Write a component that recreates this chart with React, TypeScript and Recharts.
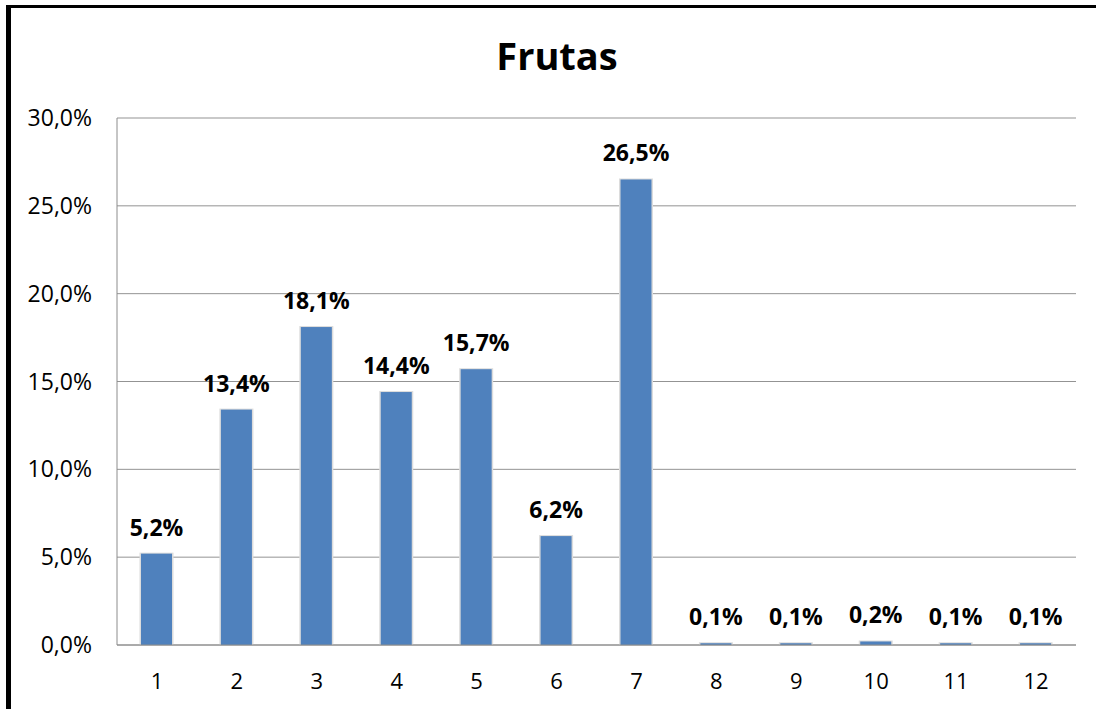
import React from 'react';
import { BarChart, Bar, XAxis, YAxis, CartesianGrid, LabelList } from 'recharts';

const categories = ['1', '2', '3', '4', '5', '6', '7', '8', '9', '10', '11', '12'];
const shares = [5.2, 13.4, 18.1, 14.4, 15.7, 6.2, 26.5, 0.1, 0.1, 0.2, 0.1, 0.1];
const yTicks = [0, 5, 10, 15, 20, 25, 30];

const data = categories.map((c, i) => ({ name: c, value: shares[i] }));

const fmt = (v: number) => `${v.toFixed(1).replace('.', ',')}%`;
const font = '"Open Sans", sans-serif';

const BarWithHalo = (props: any) => {
  const { x, y, width, height, fill } = props;
  if (height <= 0) return null;
  return (
    <g>
      <rect x={x - 1.5} y={y - 1} width={width + 3} height={height + 1} fill="#dcdcdc" />
      <rect x={x} y={y} width={width} height={height} fill={fill} />
    </g>
  );
};

const App: React.FC = () => {
  return (
    <div style={{ position: 'absolute', left: 0, top: 0, width: 1096, height: 709, overflow: 'hidden', background: '#fff' }}>
      {/* frame, cropped at right and bottom like the source */}
      <div style={{ position: 'absolute', left: 6, top: 5, width: 1090, height: 3, background: '#000' }} />
      <div style={{ position: 'absolute', left: 6, top: 5, width: 5, height: 704, background: '#000' }} />
      <div
        style={{
          position: 'absolute',
          left: 407,
          top: 36,
          width: 300,
          textAlign: 'center',
          fontFamily: font,
          fontWeight: 700,
          fontSize: 38,
          lineHeight: '38px',
          color: '#000',
        }}
      >
        Frutas
      </div>
      <div style={{ position: 'absolute', left: 0, top: 0 }}>
        <BarChart width={1096} height={709} data={data} margin={{ top: 118, right: 20, bottom: 34, left: 0 }}>
          <CartesianGrid horizontal vertical={false} stroke="#939393" />
          <XAxis
            dataKey="name"
            height={30}
            axisLine={{ stroke: '#8c8c8c' }}
            tickLine={false}
            tickSize={0}
            tickMargin={28}
            tick={{ fill: '#000', fontSize: 22, fontFamily: font }}
            interval={0}
          />
          <YAxis
            domain={[0, 30]}
            ticks={yTicks}
            tickFormatter={fmt}
            width={117}
            axisLine={{ stroke: '#8c8c8c' }}
            tickLine={false}
            tickSize={0}
            tickMargin={25}
            tick={{ fill: '#000', fontSize: 23, fontFamily: font }}
          />
          <Bar dataKey="value" fill="#4f81bd" barSize={31} isAnimationActive={false} shape={BarWithHalo}>
            <LabelList
              dataKey="value"
              position="top"
              offset={18}
              formatter={(v: any) => fmt(Number(v))}
              style={{ fill: '#000', fontSize: 23, fontWeight: 700, fontFamily: font }}
            />
          </Bar>
        </BarChart>
      </div>
    </div>
  );
};

export default App;
